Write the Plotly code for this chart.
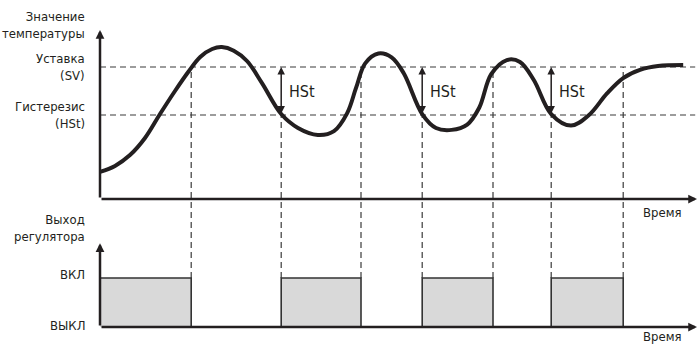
import plotly.graph_objects as go

# ---- data (time units, temperature units) ----
curve_t = [0, 2.5, 5, 7.5, 10, 12.5, 14.7, 16.7, 18.7, 20.3, 22.3, 24.5, 27, 30.2, 33, 36.3, 39,
           41.2, 42.7, 44.2, 46.4, 48.6, 50.6, 53.7, 56, 58.6, 61.2, 63.2, 65.2, 67.8, 70, 72.3,
           75.2, 78.5, 81.5, 84.5, 87.2, 90, 93, 97.2]
curve_T = [11.3, 13.8, 18.3, 25.4, 35.4, 45, 52.9, 59.2, 62.5, 63.3, 61.8, 57.5, 48.3, 35.4, 29.6,
           26.7, 28.3, 35.8, 46.5, 56.5, 60.6, 59, 52.5, 35.4, 29.6, 28.8, 31, 38, 52, 57.9, 57.1,
           49.6, 35.4, 30.6, 35, 44, 50.4, 53.8, 55.4, 55.8]

setpoint = 55
hyst_low = 35

switch_t = [15.2, 30.2, 43.5, 53.7, 65.5, 75.2, 87.2]
switch_top = ["SV", "HSt", "SV", "HSt", "SV", "HSt", "SV"]
out_t = [0, 15.2, 30.2, 43.5, 53.7, 65.5, 75.2, 87.2, 99]
out_state = [1, 0, 1, 0, 1, 0, 1, 0, 0]
hst_arrow_t = [30.2, 53.7, 75.2]

t_end = 99.5
temp_axis_top = 70.4
out_axis_top = 1.71

# ---- style ----
INK = "#231f20"
DASH = "#3a3a3a"
FONT = "DejaVu Sans Condensed, Liberation Sans Narrow, Roboto, sans-serif"
x_range = [-100 / 6, 597 / 6]
y_range = [-148 / 2.4, 199 / 2.4]
y2_range = [-20 / 49, 327 / 49]


def frac(v, r):
    return (v - r[0]) / (r[1] - r[0])


fig = go.Figure()

# controller output (steps)
fig.add_trace(go.Scatter(x=out_t, y=out_state, yaxis="y2", mode="lines", line_shape="hv",
                         line=dict(color="#333333", width=1.6), fill="tozeroy",
                         fillcolor="#d9d9d9", hoverinfo="skip"))
# temperature curve
fig.add_trace(go.Scatter(x=curve_t, y=curve_T, mode="lines",
                         line=dict(color=INK, width=4, shape="spline", smoothing=1.0),
                         hoverinfo="skip"))

shapes = []
for lvl in (setpoint, hyst_low):
    shapes.append(dict(type="line", xref="x", yref="y", x0=0, x1=99.2, y0=lvl, y1=lvl,
                       line=dict(color=DASH, width=1.2, dash="6px,4px"), layer="below"))
for t, top in zip(switch_t, switch_top):
    lvl = setpoint if top == "SV" else hyst_low
    shapes.append(dict(type="line", xref="x", yref="paper", x0=t, x1=t,
                       y0=frac(1, y2_range), y1=frac(lvl, y_range),
                       line=dict(color=DASH, width=1.2, dash="6px,4px"), layer="below"))

ann = []


def axis_arrow(x, y, ax, ay, yref):
    return dict(x=x, y=y, ax=ax, ay=ay, xref="x", yref=yref, axref="x", ayref=yref,
                showarrow=True, arrowhead=2, arrowsize=0.7, arrowwidth=2.5, arrowcolor=INK, text="")


ann.append(axis_arrow(0, temp_axis_top, 0, 0, "y"))
ann.append(axis_arrow(t_end, 0, 0, 0, "y"))
ann.append(axis_arrow(0, out_axis_top, 0, 0, "y2"))
ann.append(axis_arrow(t_end, 0, 0, 0, "y2"))

for t in hst_arrow_t:
    ann.append(dict(x=t, y=setpoint, ax=t, ay=hyst_low, xref="x", yref="y", axref="x", ayref="y",
                    showarrow=True, arrowhead=2, arrowside="end+start", arrowsize=1,
                    arrowwidth=1.5, arrowcolor=INK, text=""))
    ann.append(dict(x=t + 1.0, y=45, xref="x", yref="y", text="HSt", showarrow=False,
                    xanchor="left", yanchor="middle",
                    font=dict(family=FONT, size=16, color=INK)))


def label(text, x, y, yref, xanchor="right"):
    return dict(x=x, y=y, xref="x", yref=yref, text=text, showarrow=False, xanchor=xanchor,
                yanchor="middle", align="right", font=dict(family=FONT, size=13, color=INK))


ann.append(label("Значение<br>температуры", -2.2, 72.5, "y"))
ann.append(label("Уставка<br>(SV)", -2.2, setpoint, "y"))
ann.append(label("Гистерезис<br>(HSt)", -2.2, hyst_low, "y"))
ann.append(label("Время", 93.75, -5.8, "y", xanchor="center"))
ann.append(label("Выход<br>регулятора", -2.2, 2.03, "y2"))
ann.append(label("ВКЛ", -2.2, 1.08, "y2"))
ann.append(label("ВЫКЛ", -2.2, 0.04, "y2"))
ann.append(label("Время", 93.75, -0.2, "y2", xanchor="center"))

fig.update_layout(
    width=697, height=347, margin=dict(l=0, r=0, t=0, b=0),
    paper_bgcolor="white", plot_bgcolor="white", showlegend=False,
    xaxis=dict(range=x_range, visible=False, fixedrange=True),
    yaxis=dict(range=y_range, visible=False, fixedrange=True),
    yaxis2=dict(range=y2_range, visible=False, overlaying="y", fixedrange=True),
    shapes=shapes, annotations=ann,
)

fig.write_html("out.html", config={"displayModeBar": False},
               post_script="document.body.style.margin='0';document.body.style.overflow='hidden';")
